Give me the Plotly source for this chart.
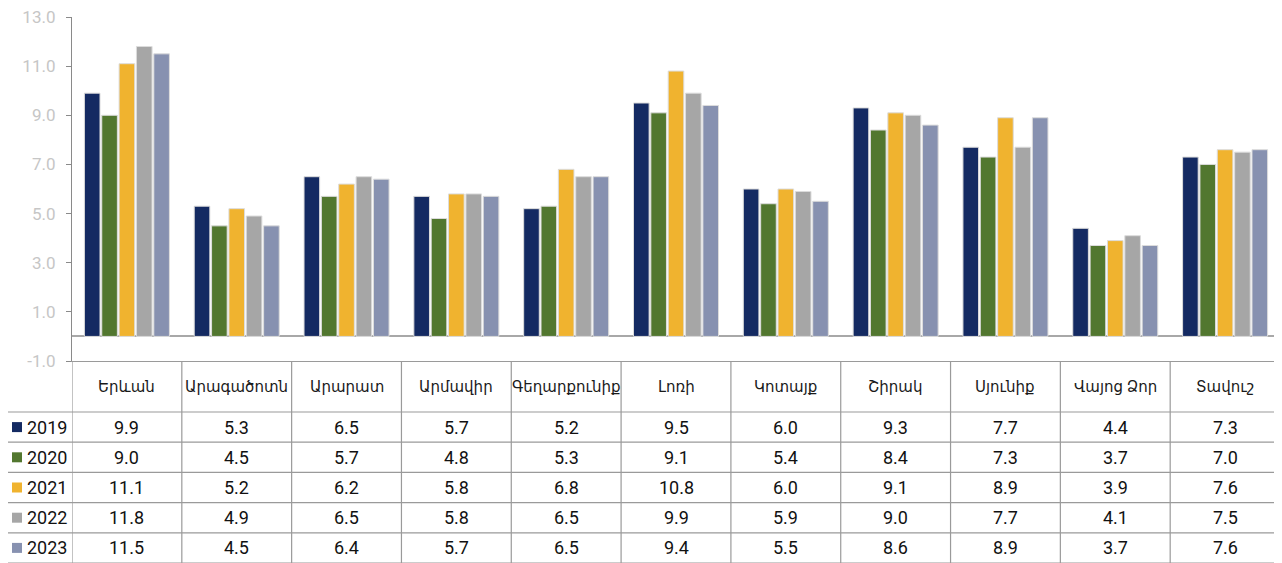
import plotly.graph_objects as go

regions = ["Երևան", "Արագածոտն", "Արարատ", "Արմավիր", "Գեղարքունիք", "Լոռի",
           "Կոտայք", "Շիրակ", "Սյունիք", "Վայոց Ձոր", "Տավուշ"]
years = ["2019", "2020", "2021", "2022", "2023"]
v2019 = [9.9, 5.3, 6.5, 5.7, 5.2, 9.5, 6.0, 9.3, 7.7, 4.4, 7.3]
v2020 = [9.0, 4.5, 5.7, 4.8, 5.3, 9.1, 5.4, 8.4, 7.3, 3.7, 7.0]
v2021 = [11.1, 5.2, 6.2, 5.8, 6.8, 10.8, 6.0, 9.1, 8.9, 3.9, 7.6]
v2022 = [11.8, 4.9, 6.5, 5.8, 6.5, 9.9, 5.9, 9.0, 7.7, 4.1, 7.5]
v2023 = [11.5, 4.5, 6.4, 5.7, 6.5, 9.4, 5.5, 8.6, 8.9, 3.7, 7.6]
series = [v2019, v2020, v2021, v2022, v2023]
colors = ["#142a62", "#52772f", "#f0b32f", "#a6a6a6", "#8791b0"]
yticks = [-1, 1, 3, 5, 7, 9, 11, 13]

# page body has an 8px margin; compensate so the screen positions match
W, H = 1274, 555
ML, MR, MT, MB = 64, 2, 9, 0
PW = W - ML - MR
PH = H - MT - MB
HEADER_H = 51
ROW_H = 30.2
TABLE_H = HEADER_H + ROW_H * len(years)
tdom = TABLE_H / PH
LINE = "#9a9a9a"
FONT = "Roboto, DejaVu Sans, sans-serif"
LEFT_PAD = 66  # legend column width in px

fig = go.Figure()
idx = list(range(len(regions)))
for y, vals, c in zip(years, series, colors):
    fig.add_trace(go.Bar(x=idx, y=vals, name=y, marker_color=c,
                         marker_line_color="#dcdcdc", marker_line_width=1,
                         showlegend=False, hoverinfo="x+y"))

shapes = []
annotations = []
n = len(regions)
for i in range(n + 1):
    shapes.append(dict(type="line", xref="x", yref="y2", x0=i - 0.5, x1=i - 0.5,
                       y0=0, y1=TABLE_H, line=dict(color=LINE, width=1.2)))
lx0 = -LEFT_PAD / PW
shapes.append(dict(type="line", xref="paper", yref="y2", x0=lx0, x1=lx0,
                   y0=0, y1=ROW_H * len(years), line=dict(color=LINE, width=1.2)))
for k in range(len(years) + 1):
    yy = ROW_H * k
    shapes.append(dict(type="line", xref="paper", yref="y2", x0=lx0, x1=1,
                       y0=yy, y1=yy, line=dict(color=LINE, width=1.2)))

for i, r in enumerate(regions):
    annotations.append(dict(x=i, y=ROW_H * len(years) + HEADER_H / 2, xref="x", yref="y2",
                            text=r, showarrow=False,
                            font=dict(family=FONT, size=15, color="#1a1a1a")))
for k, (y, vals, c) in enumerate(zip(years, series, colors)):
    yc = ROW_H * (len(years) - k - 0.5)
    shapes.append(dict(type="rect", xref="paper", yref="y2", x0=-60 / PW, x1=-50 / PW,
                       y0=yc - 5, y1=yc + 5, fillcolor=c, line=dict(width=0)))
    annotations.append(dict(x=-47 / PW, y=yc, xref="paper", yref="y2",
                            text=y, showarrow=False, xanchor="left",
                            font=dict(family=FONT, size=18, color="#111111")))
    for i, v in enumerate(vals):
        annotations.append(dict(x=i, y=yc, xref="x", yref="y2", text=f"{v:.1f}",
                                showarrow=False,
                                font=dict(family=FONT, size=18, color="#111111")))

fig.update_layout(
    width=W, height=H,
    margin=dict(l=ML, r=MR, t=MT, b=MB, autoexpand=False),
    paper_bgcolor="white", plot_bgcolor="white",
    barmode="group", bargap=0.21, bargroupgap=0.1,
    xaxis=dict(range=[-0.5, n - 0.5], showticklabels=False, ticks="",
               showgrid=False, zeroline=False, showline=True, automargin=False,
               linecolor=LINE, linewidth=1.2, fixedrange=True),
    yaxis=dict(domain=[tdom, 1], range=[-1, 13], tickvals=yticks,
               ticktext=[f"{t:.1f}" for t in yticks], automargin=False,
               ticklabeloverflow="allow", ticklabelstandoff=7,
               showgrid=False, zeroline=True,
               zerolinecolor="#a8a8a8", zerolinewidth=1.5,
               showline=True, linecolor="#8a8a8a", linewidth=1.2,
               ticks="outside", ticklen=5, tickcolor="#8a8a8a",
               tickfont=dict(family=FONT, size=17, color="#c6c6c6")),
    yaxis2=dict(domain=[0, tdom], range=[0, TABLE_H], visible=False,
                anchor="x", fixedrange=True),
    shapes=shapes, annotations=annotations,
)

fig.write_html("out.html")
